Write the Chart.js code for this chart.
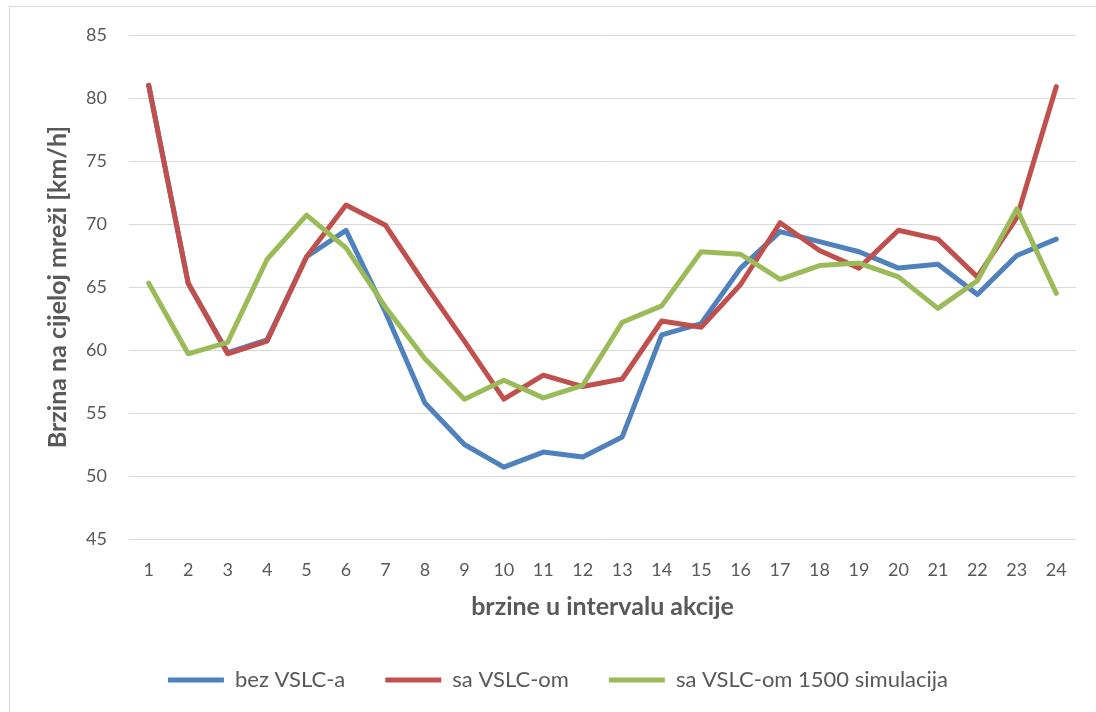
<!DOCTYPE html>
<html>
<head>
<meta charset="utf-8">
<script src="https://cdn.jsdelivr.net/npm/chart.js@4/dist/chart.umd.min.js"></script>
<style>
    html, body { margin: 0; padding: 0; background: #fff; }
    #wrap { position: relative; width: 1096px; height: 712px; overflow: hidden; }
    #frame { position: absolute; left: 9px; top: 6px; width: 1200px; height: 800px; border: 1px solid #d9d9d9; box-sizing: border-box; }
    #c { position: absolute; left: 0; top: 0; }
</style>
</head>
<body>
<div id="wrap">
    <div id="frame"></div>
    <canvas id="c" width="1096" height="712"></canvas>
</div>
<script>
// x categories (akcijski intervali)
const intervals = ['1','2','3','4','5','6','7','8','9','10','11','12','13','14','15','16','17','18','19','20','21','22','23','24'];

// brzina na cijeloj mreži [km/h]
const bezVSLC = [81.0, 65.3, 59.8, 60.8, 67.4, 69.5, 63.0, 55.8, 52.5, 50.7, 51.9, 51.5, 53.1, 61.2, 62.1, 66.5, 69.4, 68.6, 67.8, 66.5, 66.8, 64.4, 67.5, 68.8];
const saVSLC = [81.0, 65.3, 59.7, 60.7, 67.4, 71.5, 69.9, 65.2, 60.7, 56.1, 58.0, 57.1, 57.7, 62.3, 61.8, 65.2, 70.1, 67.9, 66.5, 69.5, 68.8, 65.8, 70.5, 80.9];
const saVSLC1500 = [65.3, 59.7, 60.6, 67.2, 70.7, 68.1, 63.4, 59.3, 56.1, 57.6, 56.2, 57.2, 62.2, 63.5, 67.8, 67.6, 65.6, 66.7, 66.9, 65.8, 63.3, 65.5, 71.2, 64.5];

const yTicks = [45, 50, 55, 60, 65, 70, 75, 80, 85];

const txt = '#595959';
const grid = '#d9d9d9';
const fam = 'Lato, "Open Sans", sans-serif';

// later series sit on top, like in Excel
function line(label, data, color, order) {
    return {
        label: label,
        data: data,
        order: order,
        borderColor: color,
        backgroundColor: color,
        borderWidth: 5,
        borderCapStyle: 'round',
        borderJoinStyle: 'round',
        pointRadius: 0,
        pointHoverRadius: 0,
        pointStyle: 'line',
        tension: 0,
        fill: false
    };
}

new Chart(document.getElementById('c'), {
    type: 'line',
    data: {
        labels: intervals,
        datasets: [
            line('bez VSLC-a', bezVSLC, '#4F81BD', 3),
            line('sa VSLC-om', saVSLC, '#C0504D', 2),
            line('sa VSLC-om 1500 simulacija', saVSLC1500, '#9BBB59', 1)
        ]
    },
    options: {
        responsive: false,
        animation: false,
        layout: { padding: { left: 40, right: 20, top: 35, bottom: 11 } },
        plugins: {
            tooltip: { enabled: false },
            legend: {
                position: 'bottom',
                labels: {
                    usePointStyle: true,
                    pointStyleWidth: 56,
                    padding: 40,
                    color: txt,
                    font: { family: fam, size: 22 },
                    sort: (a, b) => a.datasetIndex - b.datasetIndex
                }
            }
        },
        scales: {
            x: {
                offset: true,
                grid: { display: false, drawTicks: false },
                border: { display: false },
                ticks: { color: txt, padding: 20, maxRotation: 0, font: { family: fam, size: 18 } },
                title: {
                    display: true,
                    text: 'brzine u intervalu akcije',
                    color: txt,
                    padding: { top: 0, bottom: 7 },
                    font: { family: fam, size: 25, weight: 'bold' }
                },
                afterFit: s => { s.height = 90; }
            },
            y: {
                min: 45,
                max: 85,
                afterBuildTicks: s => { s.ticks = yTicks.map(v => ({ value: v })); },
                grid: { color: grid, lineWidth: 1, drawTicks: false },
                border: { display: false },
                ticks: { color: txt, padding: 22, font: { family: fam, size: 18 } },
                title: {
                    display: true,
                    text: 'Brzina na cijeloj mreži [km/h]',
                    color: txt,
                    padding: { top: 3, bottom: 0 },
                    font: { family: fam, size: 25, weight: 'bold' }
                },
                afterFit: s => { s.width = 89; }
            }
        }
    }
});
</script>
</body>
</html>
